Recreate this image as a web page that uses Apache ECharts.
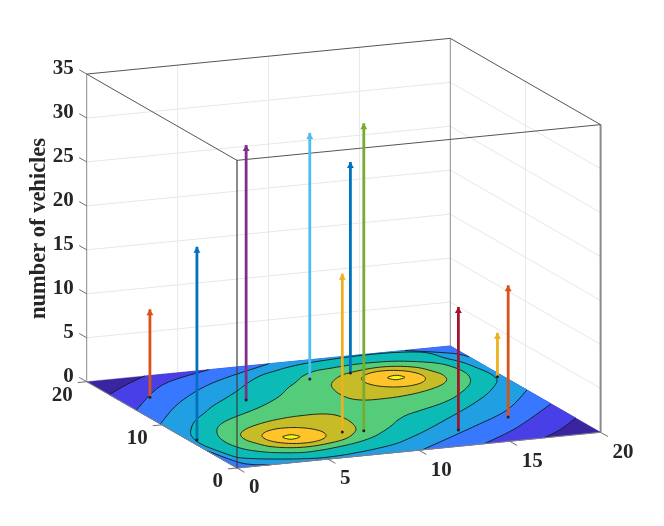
<!DOCTYPE html>
<html lang="en">
<head>
<meta charset="UTF-8">
<title>number of vehicles</title>
<script src="https://cdn.jsdelivr.net/npm/echarts@6/dist/echarts.min.js"></script>
<style>
  html, body { margin: 0; padding: 0; background: #fff; }
  #main { width: 664px; height: 526px; }
</style>
</head>
<body>
<div id="main"></div>
<script>
// tick labels
var xTicks = [0, 5, 10, 15, 20];
var yTicks = [0, 10, 20];
var zTicks = [0, 5, 10, 15, 20, 25, 30, 35];

// stems: position on the floor and height
var stemX = [1.7, 0.4, 6.0, 10.7, 7.9, 13.1, 9.0, 13.5, 19.7, 16.9];
var stemY = [15.7, 6.3, 13.3, 16.2, 5.1, 16.6, 4.9, 3.2, 13.0, 4.8];
var stemZ = [10, 22, 29, 28, 18, 24, 35, 14, 5, 15];
var stemColor = ['#D95319', '#0072BD', '#7E2F8E', '#4DBEEE', '#EDB120', '#0072BD', '#77AC30', '#A2142F', '#EDB120', '#D95319'];

var level1a = [[0, 17], [1.7, 18.7], [3.2, 20]];
var level1b = [[20, 3.3], [18.3, 1.3], [16.9, 0]];
var level2a = [[0, 13.4], [3.3, 17.9], [6.7, 20]];
var level2b = [[20, 6.6], [16.4, 2.5], [13.6, 0]];
var level3a = [[0, 10.2], [2.6, 14], [5.8, 17.3], [10, 20]];
var level3b = [[17.5, 20], [19.5, 18.5], [20, 17.5]];
var level3c = [[20, 9.8], [17.4, 6.2], [14.4, 3.5], [10.2, 0]];
var level3d = [[1.8, 0], [1, 0.4], [0.5, 1.25], [0, 4]];
var level4 = [[0.94, 8.42], [1.53, 9.56], [2.13, 10.48], [3.04, 11.6], [3.94, 12.74], [5.13, 13.98], [6.3, 15.24],
  [7.69, 16.87], [8.78, 17.91], [9.72, 18.46], [10.57, 18.92], [11.74, 19.36], [13.25, 19.66], [14.98, 19.87],
  [16.87, 19.79], [18.28, 19.21], [18.77, 17.73], [19.22, 16.61], [19.44, 15.37], [19.6, 14.02], [19.56, 13],
  [19.33, 12.17], [18.74, 11.14], [17.79, 9.78], [16.63, 8.42], [15.36, 7.09], [13.7, 5.46], [12.02, 3.83],
  [10.76, 2.73], [9.5, 1.75], [8.03, 1.08], [6.77, 0.68], [5.86, 0.47], [4.72, 0.37], [3.86, 0.56], [3.23, 0.75],
  [2.29, 1.14], [1.61, 1.49], [0.91, 2.06], [0.63, 3.1], [0.42, 4.23], [0.28, 5.21], [0.32, 6.36], [0.54, 7.42]];
var level5 = [[8.94, 14.84], [8.04, 13.6], [7.12, 12.58], [6.07, 11.62], [5.1, 10.87], [4.08, 10.13], [3.15, 9.35],
  [2.46, 8.48], [2, 7.51], [1.69, 6.48], [1.57, 5.38], [1.66, 4.41], [1.91, 3.54], [2.36, 2.89], [2.91, 2.39],
  [3.73, 1.98], [4.47, 1.79], [5.46, 1.91], [6.6, 2.25], [7.73, 2.72], [8.84, 3.42], [9.76, 4.3], [10.67, 5.32],
  [11.49, 6.37], [12.31, 7.19], [13.3, 7.82], [14.77, 8.73], [15.88, 9.65], [16.92, 10.85], [17.69, 11.92],
  [18.17, 12.88], [18.46, 13.91], [18.53, 14.93], [18.34, 16.05], [18.01, 16.81], [17.29, 17.46], [16.16, 18.07],
  [14.86, 18.24], [13.74, 18.18], [12.53, 17.92], [11.6, 17.68], [10.63, 16.93], [9.81, 15.87]];
var level6a = [[2.91, 6.56], [3.53, 7.46], [4.41, 8.14], [5.4, 8.66], [6.34, 8.97], [7.23, 9.11], [8.32, 9.08],
  [8.94, 8.59], [9.13, 7.58], [9.05, 6.46], [8.78, 5.41], [8.23, 4.48], [7.44, 3.64], [6.42, 3.14], [5.19, 2.83],
  [4.15, 2.99], [3.31, 3.61], [2.9, 4.6], [2.71, 5.48]];
var level6b = [[17.09, 13.44], [16.47, 12.54], [15.59, 11.86], [14.6, 11.34], [13.66, 11.03], [12.77, 10.89],
  [11.68, 10.92], [11.06, 11.41], [10.87, 12.42], [10.95, 13.54], [11.22, 14.59], [11.77, 15.52], [12.56, 16.36],
  [13.58, 16.86], [14.81, 17.17], [15.85, 17.01], [16.69, 16.39], [17.1, 15.4], [17.29, 14.52]];
var level7a = [[6.84, 4.7], [6.97, 5.57], [6.65, 6.38], [5.99, 6.9], [5.15, 7], [4.37, 6.65], [3.83, 5.94],
  [3.71, 5.07], [4.02, 4.27], [4.68, 3.74], [5.52, 3.65], [6.31, 3.99]];
var level7b = [[16.16, 14.01], [16.29, 14.9], [15.99, 15.75], [15.33, 16.28], [14.49, 16.37], [13.69, 15.98],
  [13.16, 15.25], [13.02, 14.36], [13.32, 13.52], [13.98, 12.99], [14.82, 12.9], [15.62, 13.28]];
var level8a = [[4.67, 5.25], [5.26, 5.54], [5.52, 4.97], [4.89, 4.63]];
var level8b = [[14.45, 14.95], [15.05, 15.26], [15.31, 14.69], [14.69, 14.38]];

var bandColor = ['#3A24A0', '#4840E6', '#3878FF', '#20A0E2', '#0CBBB6', '#55CC7A', '#C6BC28', '#FFC42A', '#F8F80E'];

// fixed view of the box: orthographic, so x, y and z each just add a screen offset
function project(x, y, z) {
  return [237 + x * 18.18 - y * 7.515, 468 - x * 1.785 - y * 4.315 - z * 8.79];
}

// smooth a contour for drawing (Catmull-Rom)
function spline(pts, closed) {
  var out = [], n = pts.length, steps = 6;
  var last = closed ? n : n - 1;
  function at(i) {
    return closed ? pts[(i + n) % n] : pts[Math.max(0, Math.min(n - 1, i))];
  }
  for (var i = 0; i < last; i++) {
    var p0 = at(i - 1), p1 = at(i), p2 = at(i + 1), p3 = at(i + 2);
    for (var s = 0; s < steps; s++) {
      var t = s / steps, t2 = t * t, t3 = t2 * t;
      out.push([0, 1].map(function (k) {
        return 0.5 * (2 * p1[k] + (p2[k] - p0[k]) * t + (2 * p0[k] - 5 * p1[k] + 4 * p2[k] - p3[k]) * t2 +
          (3 * p1[k] - p0[k] - 3 * p2[k] + p3[k]) * t3);
      }));
    }
  }
  if (!closed) out.push(pts[n - 1]);
  return out;
}

// floor polygon -> filled custom series
function fillSeries(points, color) {
  return {
    type: 'custom', silent: true, z: 3, data: [0],
    renderItem: function (params, api) {
      return {
        type: 'polygon',
        shape: { points: points.map(function (p) { return api.coord(project(p[0], p[1], 0)); }) },
        style: { fill: color, stroke: color, lineWidth: 0.4 }
      };
    }
  };
}

// contour stroke on the floor
function lineSeries(points) {
  return {
    type: 'custom', silent: true, z: 4, data: [0],
    renderItem: function (params, api) {
      return {
        type: 'polyline',
        shape: { points: points.map(function (p) { return api.coord(project(p[0], p[1], 0)); }) },
        style: { fill: null, stroke: '#10181c', lineWidth: 0.9 }
      };
    }
  };
}

// straight 3d segments, each row is x1,y1,z1,x2,y2,z2
function segSeries(rows, color, width, z) {
  return {
    type: 'custom', silent: true, z: z, data: rows,
    encode: { x: [], y: [] },
    renderItem: function (params, api) {
      var r = rows[params.dataIndex];
      var a = api.coord(project(r[0], r[1], r[2]));
      var b = api.coord(project(r[3], r[4], r[5]));
      return {
        type: 'line',
        shape: { x1: a[0], y1: a[1], x2: b[0], y2: b[1] },
        style: { stroke: color, lineWidth: width }
      };
    }
  };
}

// tick labels: anchored on a 3d point, moved a few px off the axis
function labelSeries(rows, align, dx, dy) {
  return {
    type: 'custom', silent: true, z: 8, data: rows,
    renderItem: function (params, api) {
      var r = rows[params.dataIndex];
      var a = api.coord(project(r[0], r[1], r[2]));
      return {
        type: 'text',
        x: a[0] + dx, y: a[1] + dy,
        style: {
          text: String(r[3]), align: align, verticalAlign: 'middle',
          font: 'bold 21px "Liberation Serif"', fill: '#262626'
        }
      };
    }
  };
}

var series = [];

// back walls
var grid = [];
zTicks.slice(1, -1).forEach(function (z) {
  grid.push([0, 20, z, 20, 20, z], [20, 20, z, 20, 0, z]);
});
[5, 10, 15].forEach(function (x) { grid.push([x, 20, 0, x, 20, 35]); });
grid.push([20, 10, 0, 20, 10, 35]);
series.push(segSeries(grid, '#e8e8e8', 1, 1));
series.push(segSeries([[0, 20, 0, 0, 20, 35], [20, 20, 0, 20, 20, 35]], '#8c8c8c', 1, 2));

// filled bands, lowest first
series.push(fillSeries([[0, 0], [0, 20], [20, 20], [20, 0]], bandColor[0]));
series.push(fillSeries([[0, 0]].concat(spline(level1a), [[20, 20]], spline(level1b)), bandColor[1]));
series.push(fillSeries([[0, 0]].concat(spline(level2a), [[20, 20]], spline(level2b)), bandColor[2]));
series.push(fillSeries(spline(level3a).concat(spline(level3b), spline(level3c), spline(level3d)), bandColor[3]));
series.push(fillSeries(spline(level4, true), bandColor[4]));
series.push(fillSeries(spline(level5, true), bandColor[5]));
series.push(fillSeries(spline(level6a, true), bandColor[6]));
series.push(fillSeries(spline(level6b, true), bandColor[6]));
series.push(fillSeries(spline(level7a, true), bandColor[7]));
series.push(fillSeries(spline(level7b, true), bandColor[7]));
series.push(fillSeries(spline(level8a, true), bandColor[8]));
series.push(fillSeries(spline(level8b, true), bandColor[8]));

[level1a, level1b, level2a, level2b, level3a, level3b, level3c, level3d].forEach(function (c) {
  series.push(lineSeries(spline(c)));
});
[level4, level5, level6a, level6b, level7a, level7b, level8a, level8b].forEach(function (c) {
  var s = spline(c, true);
  series.push(lineSeries(s.concat([s[0]])));
});

// axis edges, box and ticks
series.push(segSeries([[0, 0, 0, 20, 0, 0], [0, 0, 0, 0, 20, 0]], '#808080', 1, 5));
series.push(segSeries([
  [0, 0, 35, 20, 0, 35], [0, 0, 35, 0, 20, 35], [0, 20, 35, 20, 20, 35], [20, 20, 35, 20, 0, 35]
], '#555555', 1, 5));
series.push(segSeries([[0, 0, 0, 0, 0, 35], [20, 0, 0, 20, 0, 35]], 'rgba(60,60,60,0.6)', 2, 5));

var ticks = [];
xTicks.forEach(function (x) { ticks.push([x, 0, 0, x, -1, 0]); });
yTicks.forEach(function (y) { ticks.push([0, y, 0, -0.5, y, 0]); });
zTicks.forEach(function (z) { ticks.push([0, 20, z, 0, 21, z]); });
series.push(segSeries(ticks, '#707070', 1, 5));

series.push(labelSeries(xTicks.map(function (x) { return [x, 0, 0, x]; }), 'left', 12, 20));
series.push(labelSeries(yTicks.map(function (y) { return [0, y, 0, y]; }), 'right', -14, 14));
series.push(labelSeries(zTicks.map(function (z) { return [0, 20, z, z]; }), 'right', -13, -5));

// stems
stemZ.forEach(function (z, i) {
  series.push({
    type: 'line', silent: true, z: 6, animation: false,
    showAllSymbol: true,
    lineStyle: { color: stemColor[i], width: 2.8 },
    itemStyle: { color: stemColor[i] },
    data: [
      { value: project(stemX[i], stemY[i], 0), symbol: 'circle', symbolSize: 3, itemStyle: { color: '#222' } },
      { value: project(stemX[i], stemY[i], z), symbol: 'triangle', symbolSize: [7, 6], symbolOffset: [0, 3] }
    ]
  });
});

var myChart = echarts.init(document.getElementById('main'));
myChart.setOption({
  animation: false,
  backgroundColor: '#fff',
  grid: { left: 0, right: 0, top: 0, bottom: 0 },
  xAxis: { type: 'value', min: 0, max: 664, show: false },
  yAxis: { type: 'value', min: 0, max: 526, inverse: true, show: false },
  graphic: [{
    type: 'text', x: 39, y: 228.5, rotation: Math.PI / 2, z: 10,
    style: {
      text: 'number of vehicles', align: 'center', verticalAlign: 'middle',
      font: 'bold 22.5px "Liberation Serif"', fill: '#262626'
    }
  }],
  series: series
});
</script>
</body>
</html>
